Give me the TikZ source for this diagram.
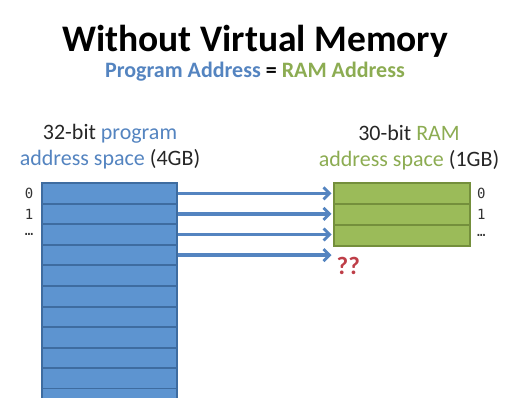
\documentclass[tikz,border=0pt]{standalone}
\usepackage{fontspec}
\setmainfont{Carlito}
\newfontfamily\monofont{DejaVu Sans Mono}
\usetikzlibrary{positioning,arrows.meta}
\definecolor{progfill}{RGB}{93,148,208}
\definecolor{progrule}{RGB}{62,108,160}
\definecolor{ramfill}{RGB}{155,187,89}
\definecolor{ramrule}{RGB}{116,143,60}
\definecolor{progtext}{RGB}{84,132,192}
\definecolor{ramtext}{RGB}{140,172,82}
\definecolor{missred}{RGB}{190,62,72}
\tikzset{
  progrow/.style={rectangle,draw=progrule,fill=progfill,line width=2pt,minimum width=135pt,minimum height=20.6pt,inner sep=0pt},
  ramrow/.style={rectangle,draw=ramrule,fill=ramfill,line width=2pt,minimum width=136pt,minimum height=21pt,inner sep=0pt},
  idx/.style={font=\monofont\fontsize{14}{16}\selectfont,text=black!80,inner sep=0pt},
  spacelabel/.style={align=center,font=\fontsize{22}{26}\selectfont,text=black!85},
  addrarrow/.style={-{Straight Barb[length=6pt,width=12pt,line width=2.8pt]},draw=progtext,line width=3.4pt}
}
\begin{document}
\begin{tikzpicture}[x=1pt,y=-1pt]
  \useasboundingbox (0,0) rectangle (519,412);
  % titles
  \node[font=\bfseries\fontsize{37.5}{42}\selectfont] (title) at (255,41) {Without Virtual Memory};
  \node[font=\bfseries\fontsize{22}{26}\selectfont] (sub) at (255,72) {\textcolor{progtext}{Program Address} = \textcolor{ramtext}{RAM Address}};
  \node[spacelabel] (proglabel) at (110,147) {32-bit \textcolor{progtext}{program}\\\textcolor{progtext}{address space} (4GB)};
  \node[spacelabel] (ramlabel) at (409,148) {30-bit \textcolor{ramtext}{RAM}\\\textcolor{ramtext}{address space} (1GB)};
  % program address space, cut off at the bottom
  \foreach \i in {1,...,10}
    \node[progrow] (p\i) at (109,{183+20.6*(\i-0.5)}) {};
  \fill[progfill] (41.5,389) rectangle (176.5,398);
  \draw[progrule,line width=2pt] (41.5,389) -- (41.5,398) (176.5,389) -- (176.5,398);
  % RAM address space
  \foreach \i in {1,2,3}
    \node[ramrow] (r\i) at (402,{183+21*(\i-0.5)}) {};
  % indices
  \node[idx,left=7pt of p1] (pz) {0};
  \node[idx,left=7pt of p2] (po) {1};
  \node[idx,left=7pt of p3] (pd) {…};
  \node[idx,right=6pt of r1] (rz) {0};
  \node[idx,right=6pt of r2] (ro) {1};
  \node[idx,right=6pt of r3] (rd) {…};
  % mapping
  \foreach \i in {1,2,3}
    \draw[addrarrow] (p\i.east) -- ([xshift=-1.5pt]p\i.east -| r\i.west);
  \coordinate (miss) at ([xshift=-1.5pt]r3.west |- p4.east);
  \draw[addrarrow] (p4.east) -- (miss);
  \node[font=\bfseries\fontsize{25}{28}\selectfont,text=missred,anchor=north west,inner sep=0pt] (qq) at ([xshift=5pt,yshift=-2pt]miss) {??};
\end{tikzpicture}
\end{document}
